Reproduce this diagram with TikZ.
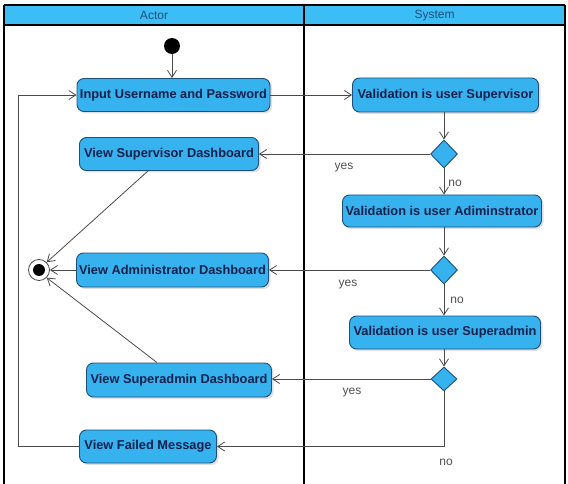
\documentclass[tikz,border=0pt]{standalone}
\usepackage{fontspec}
\setmainfont{Liberation Sans}
\usetikzlibrary{arrows.meta,shapes.geometric,shadows}
\definecolor{boxblue}{HTML}{36B2EF}
\definecolor{boxedge}{HTML}{1D4F7A}
\definecolor{txtc}{HTML}{10204C}
\definecolor{hdr}{HTML}{3CBDF6}
\definecolor{lin}{HTML}{4A4A4A}
\definecolor{lblc}{HTML}{505050}
\begin{document}
\begin{tikzpicture}[x=1pt,y=-1pt,
  act/.style={draw=boxedge, fill=boxblue, rounded corners=7pt, line width=0.9pt,
    font=\fontsize{12.8}{14}\selectfont\bfseries, text=txtc, inner sep=0pt,
    drop shadow={shadow xshift=2pt, shadow yshift=-2pt, fill=black!12, opacity=1}},
  dec/.style={diamond, draw=boxedge, fill=boxblue, line width=0.9pt,
    minimum width=27pt, minimum height=28pt, inner sep=0pt},
  flow/.style={draw=lin, line width=0.8pt, -{Straight Barb[length=7pt,width=9pt]}},
  lbl/.style={font=\fontsize{12}{14}\selectfont, text=lblc, inner sep=0pt},
  hdrtxt/.style={font=\fontsize{12}{14}\selectfont, text=boxedge, inner sep=0pt},
  lane/.style={draw=black, line width=1.4pt}
]
\useasboundingbox[fill=white] (0,0) rectangle (568,484);

% swimlane headers
\fill[hdr] (4,5) rectangle (565,25);
\node[hdrtxt] (hActor) at (154,15.5) {Actor};
\node[hdrtxt] (hSystem) at (434.5,15.5) {System};
\draw[lane] (4,5) -- (565,5);
\draw[lane] (4,25) -- (565,25);
\draw[lane] (4,5) -- (4,484);
\draw[lane] (565,5) -- (565,484);
\draw[draw=black, line width=2.6pt] (304,5) -- (304,484);

% nodes
\node[circle, fill=black, minimum size=16pt, inner sep=0pt] (start) at (172,46) {};
\node[act, minimum width=193pt, minimum height=33pt] (in) at (173.5,95) {Input Username and Password};
\node[act, minimum width=186pt, minimum height=34pt] (vsup) at (445.5,95) {Validation is user Supervisor};
\node[dec] (d1) at (444,154) {};
\node[act, minimum width=179pt, minimum height=33pt] (svd) at (169,154) {View Supervisor Dashboard};
\node[act, minimum width=199pt, minimum height=32pt] (vadm) at (442,211) {Validation is user Adiminstrator};
\node[dec] (d2) at (444,270) {};
\node[act, minimum width=192pt, minimum height=34pt] (avd) at (172.5,270) {View Administrator Dashboard};
\node[act, minimum width=191pt, minimum height=33pt] (vsa) at (445,332.5) {Validation is user Superadmin};
\node[dec, minimum width=26pt, minimum height=24pt] (d3) at (444,379) {};
\node[act, minimum width=185pt, minimum height=34pt] (sad) at (179,380) {View Superadmin Dashboard};
\node[act, minimum width=137pt, minimum height=33pt] (fail) at (148,446.5) {View Failed Message};
\node[circle, draw=lin, fill=white, line width=0.8pt, minimum size=21pt, inner sep=0pt] (end) at (39,270) {};
\fill[black] (end.center) circle (6pt);
\coordinate (loopc) at (18,446.5);

% connectors
\draw[flow] (start) -- (start |- in.north);
\draw[flow] (in.east) -- (vsup.west);
\draw[flow] (vsup.south -| d1.north) -- (d1.north);
\draw[flow] (d1.west) -- (svd.east);
\draw[flow] (d1.south) -- (vadm.north -| d1.south);
\draw[flow] (vadm.south -| d2.north) -- (d2.north);
\draw[flow] (d2.west) -- (avd.east);
\draw[flow] (d2.south) -- (vsa.north -| d2.south);
\draw[flow] (vsa.south -| d3.north) -- (d3.north);
\draw[flow] (d3.west) -- (d3.west -| sad.east);
\draw[flow] (d3.south) |- (fail.east);
\draw[flow] (fail.west) -- (loopc) |- (in.west);
\draw[flow] ([xshift=-21pt]svd.south) -- (end.north east);
\draw[flow] (avd.west) -- (end.east);
\draw[flow] ([xshift=-22pt]sad.north) -- (end.south east);

% labels
\node[lbl] (y1) at (344,168) {yes};
\node[lbl] (n1) at (455,183) {no};
\node[lbl] (y2) at (348,285) {yes};
\node[lbl] (n2) at (457,300) {no};
\node[lbl] (y3) at (352,393) {yes};
\node[lbl] (n3) at (446,462) {no};
\end{tikzpicture}
\end{document}
